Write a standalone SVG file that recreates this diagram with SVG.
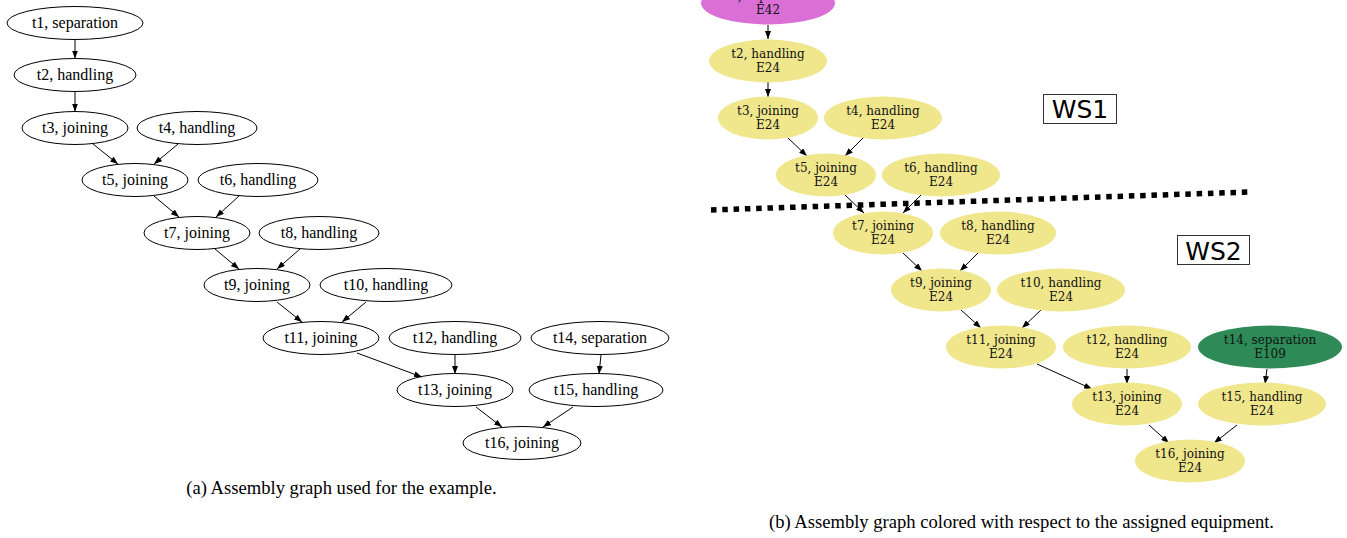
<svg xmlns="http://www.w3.org/2000/svg" width="1347" height="538" viewBox="0 0 1347 538">
<style>
.ln{fill:none;stroke:#000;stroke-width:1;}
.e{stroke:#000;stroke-width:1;marker-end:url(#ah);}
.lt{font-family:"Liberation Serif","Times New Roman",serif;font-size:16px;text-anchor:middle;fill:#000;}
.rt{font-family:"DejaVu Serif",serif;font-size:12px;text-anchor:middle;fill:#111;}
.k{fill:#F0E68C;}
.cap{font-family:"Liberation Serif","Times New Roman",serif;font-size:18.6px;text-anchor:middle;fill:#000;}
.ws{font-family:"DejaVu Sans",sans-serif;font-size:25px;text-anchor:middle;fill:#000;}
.wsb{fill:#fff;stroke:#333;stroke-width:1;}
</style>
<defs>
<marker id="ah" viewBox="0 0 8 6" refX="8" refY="3" markerWidth="8" markerHeight="6" markerUnits="userSpaceOnUse" orient="auto">
<path d="M0,0 L8,3 L0,6 z" fill="#000"/>
</marker>
</defs>
<rect width="1347" height="538" fill="#fff"/>

<!-- Left graph -->
<g id="left-connectors">
<line class="e" x1="75" y1="39.5" x2="75" y2="58.5"/>
<line class="e" x1="75" y1="91.5" x2="75" y2="111.5"/>
<line class="e" x1="93" y1="144" x2="118" y2="164"/>
<line class="e" x1="178" y1="144" x2="154" y2="164"/>
<line class="e" x1="154" y1="196" x2="179" y2="217"/>
<line class="e" x1="239" y1="196" x2="216" y2="217"/>
<line class="e" x1="215" y1="249" x2="239" y2="269"/>
<line class="e" x1="300" y1="249" x2="277" y2="269"/>
<line class="e" x1="277" y1="302" x2="302" y2="322"/>
<line class="e" x1="366" y1="302" x2="342" y2="322"/>
<line class="e" x1="357" y1="353" x2="422" y2="377"/>
<line class="e" x1="455" y1="355" x2="455" y2="374"/>
<line class="e" x1="601" y1="355" x2="599" y2="374"/>
<line class="e" x1="476" y1="407" x2="502" y2="427"/>
<line class="e" x1="573" y1="407" x2="543" y2="427"/>
</g>
<g id="a_t1"><ellipse class="ln" cx="75" cy="23" rx="68" ry="16.5"/><text class="lt" x="75" y="28">t1, separation</text></g>
<g id="a_t2"><ellipse class="ln" cx="75" cy="75" rx="61" ry="16.5"/><text class="lt" x="75" y="80">t2, handling</text></g>
<g id="a_t3"><ellipse class="ln" cx="75" cy="128" rx="53" ry="16.5"/><text class="lt" x="75" y="133">t3, joining</text></g>
<g id="a_t4"><ellipse class="ln" cx="197" cy="128" rx="60" ry="16.5"/><text class="lt" x="197" y="133">t4, handling</text></g>
<g id="a_t5"><ellipse class="ln" cx="135" cy="180" rx="53" ry="16.5"/><text class="lt" x="135" y="185">t5, joining</text></g>
<g id="a_t6"><ellipse class="ln" cx="258" cy="180" rx="60" ry="16.5"/><text class="lt" x="258" y="185">t6, handling</text></g>
<g id="a_t7"><ellipse class="ln" cx="197" cy="233" rx="53" ry="16.5"/><text class="lt" x="197" y="238">t7, joining</text></g>
<g id="a_t8"><ellipse class="ln" cx="319" cy="233" rx="60" ry="16.5"/><text class="lt" x="319" y="238">t8, handling</text></g>
<g id="a_t9"><ellipse class="ln" cx="257" cy="285" rx="53" ry="16.5"/><text class="lt" x="257" y="290">t9, joining</text></g>
<g id="a_t10"><ellipse class="ln" cx="386" cy="285" rx="66" ry="16.5"/><text class="lt" x="386" y="290">t10, handling</text></g>
<g id="a_t11"><ellipse class="ln" cx="321" cy="338" rx="58" ry="16.5"/><text class="lt" x="321" y="343">t11, joining</text></g>
<g id="a_t12"><ellipse class="ln" cx="455" cy="338" rx="66" ry="16.5"/><text class="lt" x="455" y="343">t12, handling</text></g>
<g id="a_t14"><ellipse class="ln" cx="600" cy="338" rx="69" ry="16.5"/><text class="lt" x="600" y="343">t14, separation</text></g>
<g id="a_t13"><ellipse class="ln" cx="455" cy="390" rx="58" ry="16.5"/><text class="lt" x="455" y="395">t13, joining</text></g>
<g id="a_t15"><ellipse class="ln" cx="596" cy="390" rx="67" ry="16.5"/><text class="lt" x="596" y="395">t15, handling</text></g>
<g id="a_t16"><ellipse class="ln" cx="522" cy="443" rx="59" ry="16.5"/><text class="lt" x="522" y="448">t16, joining</text></g>
<text class="cap" x="341.5" y="494">(a) Assembly graph used for the example.</text>

<!-- Right graph -->
<g id="right-connectors">
<line class="e" x1="768" y1="25" x2="768" y2="39"/>
<line class="e" x1="768" y1="82" x2="768" y2="97"/>
<line class="e" x1="788" y1="138" x2="807" y2="156"/>
<line class="e" x1="863" y1="138" x2="845" y2="156"/>
<line class="e" x1="845" y1="195" x2="864" y2="213"/>
<line class="e" x1="921" y1="195" x2="903" y2="213"/>
<line class="e" x1="903" y1="253" x2="922" y2="271"/>
<line class="e" x1="978" y1="253" x2="960" y2="271"/>
<line class="e" x1="961" y1="310" x2="981" y2="328"/>
<line class="e" x1="1041" y1="310" x2="1022" y2="328"/>
<line class="e" x1="1037" y1="364" x2="1092" y2="389"/>
<line class="e" x1="1127" y1="369" x2="1127" y2="384"/>
<line class="e" x1="1267" y1="369" x2="1265" y2="384"/>
<line class="e" x1="1149" y1="425" x2="1169" y2="443"/>
<line class="e" x1="1237" y1="425" x2="1214" y2="443"/>
</g>
<g id="b_t1"><ellipse cx="768" cy="3" rx="67" ry="21.5" fill="#DA70D6"/><text class="rt" x="768" y="0">t1, separation</text><text class="rt" x="768" y="13.5">E42</text></g>
<g id="b_t2"><ellipse class="k" cx="768" cy="61" rx="59" ry="21.5"/><text class="rt" x="768" y="58">t2, handling</text><text class="rt" x="768" y="71.5">E24</text></g>
<g id="b_t3"><ellipse class="k" cx="768" cy="118" rx="50" ry="21.5"/><text class="rt" x="768" y="115">t3, joining</text><text class="rt" x="768" y="128.5">E24</text></g>
<g id="b_t4"><ellipse class="k" cx="883" cy="118" rx="59" ry="21.5"/><text class="rt" x="883" y="115">t4, handling</text><text class="rt" x="883" y="128.5">E24</text></g>
<g id="b_t5"><ellipse class="k" cx="826" cy="175" rx="50" ry="21.5"/><text class="rt" x="826" y="172">t5, joining</text><text class="rt" x="826" y="185.5">E24</text></g>
<g id="b_t6"><ellipse class="k" cx="941" cy="175" rx="59" ry="21.5"/><text class="rt" x="941" y="172">t6, handling</text><text class="rt" x="941" y="185.5">E24</text></g>
<g id="b_t7"><ellipse class="k" cx="883" cy="233" rx="50" ry="21.5"/><text class="rt" x="883" y="230">t7, joining</text><text class="rt" x="883" y="243.5">E24</text></g>
<g id="b_t8"><ellipse class="k" cx="998" cy="233" rx="58" ry="21.5"/><text class="rt" x="998" y="230">t8, handling</text><text class="rt" x="998" y="243.5">E24</text></g>
<g id="b_t9"><ellipse class="k" cx="941" cy="290" rx="50" ry="21.5"/><text class="rt" x="941" y="287">t9, joining</text><text class="rt" x="941" y="300.5">E24</text></g>
<g id="b_t10"><ellipse class="k" cx="1061" cy="290" rx="64" ry="21.5"/><text class="rt" x="1061" y="287">t10, handling</text><text class="rt" x="1061" y="300.5">E24</text></g>
<g id="b_t11"><ellipse class="k" cx="1001" cy="347" rx="55" ry="21.5"/><text class="rt" x="1001" y="344">t11, joining</text><text class="rt" x="1001" y="357.5">E24</text></g>
<g id="b_t12"><ellipse class="k" cx="1127" cy="347" rx="64" ry="21.5"/><text class="rt" x="1127" y="344">t12, handling</text><text class="rt" x="1127" y="357.5">E24</text></g>
<g id="b_t14"><ellipse cx="1270" cy="347" rx="72" ry="21.5" fill="#2E8B57"/><text class="rt" x="1270" y="344">t14, separation</text><text class="rt" x="1270" y="357.5">E109</text></g>
<g id="b_t13"><ellipse class="k" cx="1127" cy="404" rx="55" ry="21.5"/><text class="rt" x="1127" y="401">t13, joining</text><text class="rt" x="1127" y="414.5">E24</text></g>
<g id="b_t15"><ellipse class="k" cx="1262" cy="404" rx="64" ry="21.5"/><text class="rt" x="1262" y="401">t15, handling</text><text class="rt" x="1262" y="414.5">E24</text></g>
<g id="b_t16"><ellipse class="k" cx="1190" cy="461" rx="55" ry="21.5"/><text class="rt" x="1190" y="458">t16, joining</text><text class="rt" x="1190" y="471.5">E24</text></g>

<line x1="711" y1="210" x2="1250" y2="192" stroke="#000" stroke-width="5.5" stroke-dasharray="5.5 5.8"/>
<g id="ws1"><rect class="wsb" x="1043.5" y="94.5" width="73" height="29"/><text class="ws" x="1080" y="118">WS1</text></g>
<g id="ws2"><rect class="wsb" x="1177.5" y="235.5" width="72" height="29"/><text class="ws" x="1213.5" y="260">WS2</text></g>
<text class="cap" x="1021.5" y="528">(b) Assembly graph colored with respect to the assigned equipment.</text>
</svg>
